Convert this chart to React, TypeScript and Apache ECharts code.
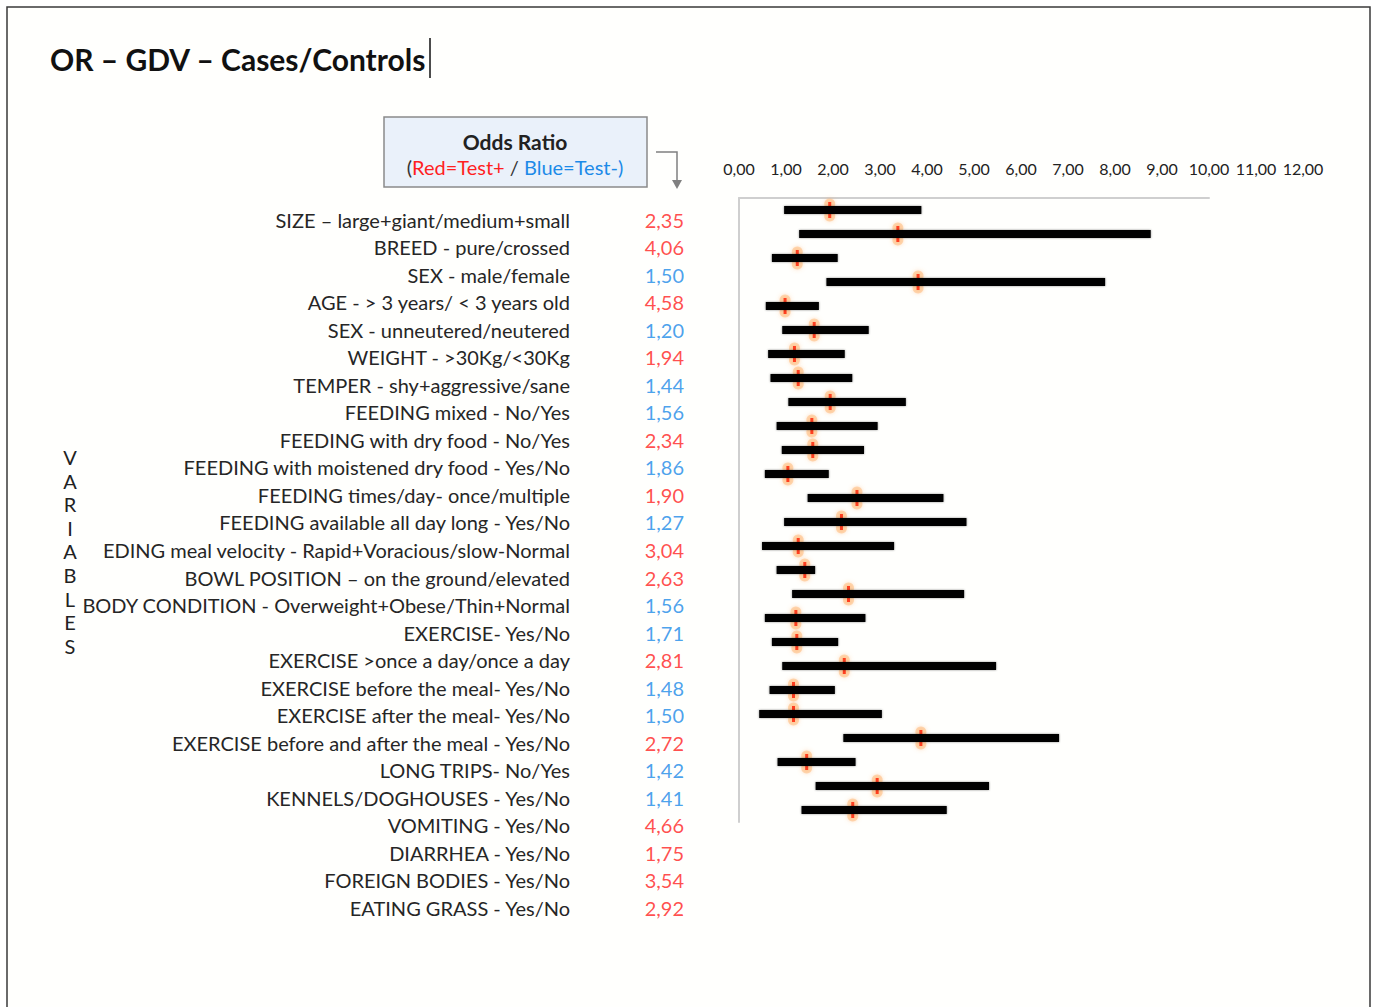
import React, { useEffect, useRef } from "react";
import * as echarts from "echarts";

const variables = [
  "SIZE – large+giant/medium+small",
  "BREED - pure/crossed",
  "SEX - male/female",
  "AGE - > 3 years/ < 3 years old",
  "SEX - unneutered/neutered",
  "WEIGHT - >30Kg/<30Kg",
  "TEMPER - shy+aggressive/sane",
  "FEEDING mixed - No/Yes",
  "FEEDING with dry food - No/Yes",
  "FEEDING with moistened dry food - Yes/No",
  "FEEDING times/day- once/multiple",
  "FEEDING available all day long - Yes/No",
  "EDING meal velocity - Rapid+Voracious/slow-Normal",
  "BOWL POSITION – on the ground/elevated",
  "BODY CONDITION - Overweight+Obese/Thin+Normal",
  "EXERCISE- Yes/No",
  "EXERCISE >once a day/once a day",
  "EXERCISE before the meal- Yes/No",
  "EXERCISE after the meal- Yes/No",
  "EXERCISE before and after the meal - Yes/No",
  "LONG TRIPS- No/Yes",
  "KENNELS/DOGHOUSES - Yes/No",
  "VOMITING - Yes/No",
  "DIARRHEA - Yes/No",
  "FOREIGN BODIES - Yes/No",
  "EATING GRASS - Yes/No",
];

const oddsRatios = [
  2.35, 4.06, 1.5, 4.58, 1.2, 1.94, 1.44, 1.56, 2.34, 1.86, 1.9, 1.27, 3.04,
  2.63, 1.56, 1.71, 2.81, 1.48, 1.5, 2.72, 1.42, 1.41, 4.66, 1.75, 3.54, 2.92,
];

// true = Test+ (red), false = Test- (blue)
const testPositive = [
  true, true, false, true, false, true, false, false, true, false, true, false,
  true, true, false, false, true, false, false, true, false, false, true, true,
  true, true,
];

// Interval bars drawn on the right-hand plot (26 rows)
const ciLow = [
  0.96, 1.28, 0.7, 1.86, 0.57, 0.92, 0.62, 0.67, 1.05, 0.8, 0.91, 0.55, 1.46,
  0.96, 0.49, 0.8, 1.13, 0.55, 0.7, 0.92, 0.65, 0.43, 2.22, 0.82, 1.63, 1.33,
];
const ciHigh = [
  3.88, 8.76, 2.1, 7.79, 1.7, 2.76, 2.25, 2.41, 3.55, 2.95, 2.66, 1.91, 4.35,
  4.84, 3.3, 1.62, 4.79, 2.69, 2.11, 5.47, 2.04, 3.04, 6.81, 2.48, 5.32, 4.42,
];
const pointEstimates = [
  1.93, 3.38, 1.24, 3.81, 0.98, 1.6, 1.18, 1.26, 1.94, 1.55, 1.57, 1.04, 2.51,
  2.18, 1.26, 1.4, 2.33, 1.21, 1.23, 2.24, 1.16, 1.16, 3.87, 1.44, 2.94, 2.42,
];

const xTickMin = 0;
const xTickMax = 12;
const xTickStep = 1;
const variableLetters = ["V", "A", "R", "I", "A", "B", "L", "E", "S"];

const RED = "#ff1f1f";
const BLUE = "#1c8ae8";
const FONT = 'Lato, "Noto Sans", sans-serif';

export default function App() {
  const ref = useRef<HTMLDivElement>(null);

  useEffect(() => {
    if (!ref.current) return;
    const chart = echarts.init(ref.current, null, { renderer: "svg" });
    const rows = variables.map((_, i) => i);
    const markerData = rows.map((i) => [pointEstimates[i], i]);

    const halo = (offset: number) => ({
      type: "scatter",
      xAxisIndex: 0,
      yAxisIndex: 0,
      z: 1,
      symbol: "circle",
      symbolSize: 11,
      symbolOffset: [0, offset],
      itemStyle: {
        color: "rgba(255,175,100,0.55)",
        shadowBlur: 4,
        shadowColor: "rgba(255,160,80,0.8)",
      },
      data: markerData,
      silent: true,
    });

    const option: any = {
      animation: false,
      backgroundColor: "#ffffff",
      textStyle: { fontFamily: FONT },
      grid: [
        { left: 739, top: 198, width: 470, height: 624 },
        { left: 739, top: 198, width: 564, height: 1 },
        { left: 572, top: 206, width: 112, height: 715.5 },
      ],
      xAxis: [
        {
          gridIndex: 0,
          type: "value",
          min: 0,
          max: 10,
          position: "top",
          axisLine: { show: true, lineStyle: { color: "#cfcfcf", width: 2 } },
          axisTick: { show: false },
          axisLabel: { show: false },
          splitLine: { show: false },
        },
        {
          gridIndex: 1,
          type: "value",
          min: xTickMin,
          max: xTickMax,
          interval: xTickStep,
          position: "top",
          axisLine: { show: false },
          axisTick: { show: false },
          splitLine: { show: false },
          axisLabel: {
            margin: 22,
            fontSize: 16,
            color: "#222",
            fontFamily: FONT,
            formatter: (v: number) => v.toFixed(2).replace(".", ","),
          },
        },
        {
          gridIndex: 2,
          type: "value",
          min: 0,
          max: 1,
          show: false,
        },
      ],
      yAxis: [
        {
          gridIndex: 0,
          type: "category",
          data: variables,
          inverse: true,
          boundaryGap: true,
          axisLine: { show: true, lineStyle: { color: "#cfcfcf", width: 2 } },
          axisTick: { show: false },
          axisLabel: { show: false },
          splitLine: { show: false },
        },
        {
          gridIndex: 1,
          type: "value",
          show: false,
        },
        {
          gridIndex: 2,
          type: "category",
          data: variables,
          inverse: true,
          axisLine: { show: false },
          axisTick: { show: false },
          splitLine: { show: false },
          axisLabel: {
            margin: 2,
            fontSize: 20,
            color: "#262626",
            fontFamily: FONT,
          },
        },
      ],
      series: [
        halo(-6),
        halo(6),
        {
          type: "scatter",
          xAxisIndex: 0,
          yAxisIndex: 0,
          z: 2,
          symbol: "rect",
          symbolSize: [3, 16],
          itemStyle: { color: "#ff1a00" },
          data: markerData,
          silent: true,
        },
        {
          type: "custom",
          xAxisIndex: 0,
          yAxisIndex: 0,
          z: 3,
          data: rows.map((i) => [ciLow[i], ciHigh[i], i]),
          renderItem: (params: any, api: any) => {
            const p0 = api.coord([api.value(0), api.value(2)]);
            const p1 = api.coord([api.value(1), api.value(2)]);
            const h = 8;
            return {
              type: "rect",
              shape: { x: p0[0], y: p0[1] - h / 2, width: p1[0] - p0[0], height: h },
              style: {
                fill: "#000",
                shadowBlur: 2,
                shadowColor: "rgba(0,0,0,0.45)",
              },
            };
          },
          silent: true,
        },
        {
          type: "scatter",
          xAxisIndex: 1,
          yAxisIndex: 1,
          data: [],
        },
        {
          type: "scatter",
          xAxisIndex: 2,
          yAxisIndex: 2,
          symbolSize: 0,
          silent: true,
          data: rows.map((i) => ({
            value: [1, i],
            label: {
              show: true,
              position: "left",
              distance: 0,
              fontSize: 20,
              fontFamily: FONT,
              color: testPositive[i] ? RED : BLUE,
              formatter: () => oddsRatios[i].toFixed(2).replace(".", ","),
            },
          })),
        },
      ],
      graphic: [
        {
          type: "rect",
          z: -10,
          shape: { x: 7, y: 7, width: 1363, height: 1020 },
          style: { fill: "#fffffd", stroke: "#3a3a3a", lineWidth: 1.5 },
          silent: true,
        },
        {
          type: "text",
          x: 50,
          y: 59,
          style: {
            text: "OR – GDV – Cases/Controls",
            fontFamily: FONT,
            fontWeight: "bold",
            fontSize: 30,
            fill: "#111",
            verticalAlign: "middle",
          },
        },
        {
          type: "line",
          shape: { x1: 430, y1: 38, x2: 430, y2: 78 },
          style: { stroke: "#111", lineWidth: 1.5 },
        },
        {
          type: "rect",
          shape: { x: 384, y: 117, width: 263, height: 70 },
          style: { fill: "#eaf1fa", stroke: "#8a8a8a", lineWidth: 1.5 },
        },
        {
          type: "text",
          x: 515,
          y: 141,
          style: {
            text: "Odds Ratio",
            fontFamily: FONT,
            fontWeight: "bold",
            fontSize: 21,
            fill: "#222",
            align: "center",
            verticalAlign: "middle",
          },
        },
        {
          type: "text",
          x: 515,
          y: 167,
          style: {
            text: "{d|(}{r|Red=Test+}{d| / }{b|Blue=Test-)}",
            fontFamily: FONT,
            fontSize: 20,
            align: "center",
            verticalAlign: "middle",
            rich: {
              d: { fill: "#333", fontSize: 20, fontFamily: FONT },
              r: { fill: RED, fontSize: 20, fontFamily: FONT },
              b: { fill: BLUE, fontSize: 20, fontFamily: FONT },
            },
          },
        },
        {
          type: "polyline",
          shape: { points: [[656, 152], [677, 152], [677, 182]] },
          style: { stroke: "#808080", lineWidth: 1.5, fill: "none" },
        },
        {
          type: "polygon",
          shape: { points: [[672, 180], [682, 180], [677, 189]] },
          style: { fill: "#808080" },
        },
        ...variableLetters.map((ch, i) => ({
          type: "text",
          x: 70,
          y: 457 + i * 23.6,
          style: {
            text: ch,
            fontFamily: FONT,
            fontSize: 20,
            fill: "#222",
            align: "center",
            verticalAlign: "middle",
          },
        })),
      ],
    };

    chart.setOption(option);
    return () => chart.dispose();
  }, []);

  return (
    <div
      ref={ref}
      style={{ position: "absolute", left: 0, top: 0, width: 1375, height: 1007 }}
    />
  );
}
